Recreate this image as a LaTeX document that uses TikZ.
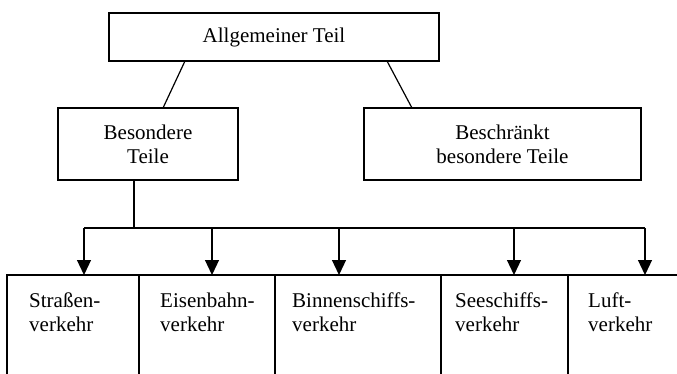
\documentclass[tikz,border=0pt]{standalone}
\usepackage{fontspec}
\setmainfont{Liberation Serif}
\usetikzlibrary{arrows.meta}

\tikzset{
	box/.style = {draw, line width=1.2pt, outer sep=0pt, inner sep=0pt, align=center},
	unterbox/.style = {draw, line width=1.2pt, outer sep=0pt, anchor=north west, minimum height=130pt},
	beschrift/.style = {anchor=north west, align=left, inner sep=0pt},
	pfeil/.style = {-{Triangle[width=14pt,length=15pt]}, line width=1.2pt},
	linie/.style = {line width=1.2pt}
}

\begin{document}
\begin{tikzpicture}[x=1pt, y=-1pt, font=\fontsize{21}{24}\selectfont]
		\useasboundingbox (0,0) rectangle (677,373);
		\clip (0,0) rectangle (677,373);
		% obere Ebene
		\node[box, minimum width=330pt, minimum height=48pt] (allg) at (274,37) {Allgemeiner Teil};
		\node[box, minimum width=180pt, minimum height=72pt] (besondere) at (148,144) {Besondere\\Teile};
		\node[box, minimum width=277pt, minimum height=72pt] (beschr) at (502.5,144) {Beschränkt\\besondere Teile};
		\draw[linie] ([xshift=76pt]allg.south west) -- ([xshift=105pt]besondere.north west);
		\draw[linie] ([xshift=-52pt]allg.south east) -- ([xshift=48pt]beschr.north west);
		% untere Ebene
		\node[unterbox, minimum width=132pt] (strassen) at (7,275) {};
		\node[unterbox, minimum width=136pt] (eisen) at (139,275) {};
		\node[unterbox, minimum width=166pt] (binnen) at (275,275) {};
		\node[unterbox, minimum width=127pt] (see) at (441,275) {};
		\node[unterbox, minimum width=140pt] (luft) at (568,275) {};
		\node[beschrift] (strassen-t) at ([shift={(22pt,-18pt)}]strassen.north west) {Straßen-\\verkehr};
		\node[beschrift] (eisen-t) at ([shift={(21pt,-18pt)}]eisen.north west) {Eisenbahn-\\verkehr};
		\node[beschrift] (binnen-t) at ([shift={(17pt,-18pt)}]binnen.north west) {Binnenschiffs-\\verkehr};
		\node[beschrift] (see-t) at ([shift={(14pt,-18pt)}]see.north west) {Seeschiffs-\\verkehr};
		\node[beschrift] (luft-t) at ([shift={(20pt,-18pt)}]luft.north west) {Luft-\\verkehr};
		% Verteiler
		\coordinate (busL) at (84,228);
		\coordinate (busR) at (645,228);
		\draw[linie] ([xshift=76pt]besondere.south west) -- ([xshift=76pt]besondere.south west |- busL);
		\draw[linie] (busL) -- (busR);
		\foreach \b/\dx in {strassen/77, eisen/73, binnen/64, see/73, luft/77}
			\draw[pfeil] ([xshift=\dx pt]\b.north west |- busL) -- ([xshift=\dx pt]\b.north west);
\end{tikzpicture}
\end{document}
